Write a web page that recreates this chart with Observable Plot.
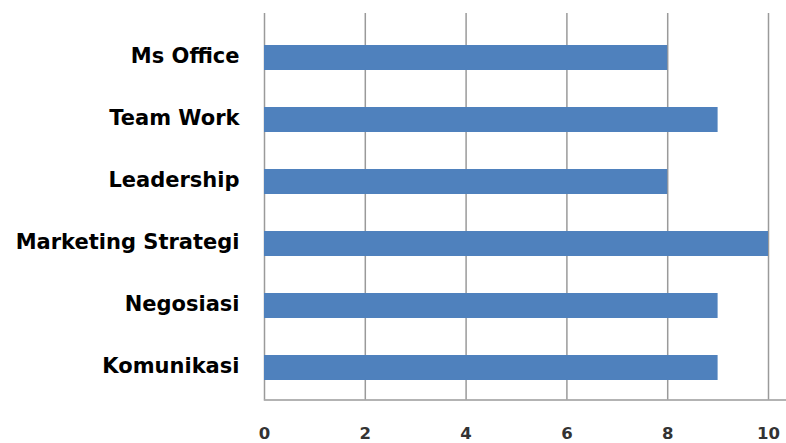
<!DOCTYPE html>
<html>
<head>
<meta charset="utf-8">
<script src="https://cdn.jsdelivr.net/npm/d3@7"></script>
<script src="https://cdn.jsdelivr.net/npm/@observablehq/plot@0.6"></script>
<style>
  html, body { margin: 0; padding: 0; background: #fff; }
</style>
</head>
<body>
<div id="chart"></div>
<script>
const categories = ["Ms Office", "Team Work", "Leadership", "Marketing Strategi", "Negosiasi", "Komunikasi"];
const values = [8, 9, 8, 10, 9, 9];
const xTicks = [0, 2, 4, 6, 8, 10];

const data = categories.map((c, i) => ({skill: c, value: values[i]}));

const chart = Plot.plot({
  width: 786,
  height: 443,
  marginLeft: 264,
  marginRight: 18,
  marginTop: 13,
  marginBottom: 43.5,
  style: {fontFamily: "DejaVu Sans", background: "#fff", color: "#111"},
  x: {domain: [0, 10], ticks: xTicks},
  y: {domain: categories, range: [25.3, 399.7], paddingInner: 0.6, paddingOuter: 0.3},
  marks: [
    Plot.ruleX(xTicks, {stroke: "#9a9a9a", strokeWidth: 1.5}),
    Plot.barX(data, {x: "value", y: "skill", fill: "#4f81bd"}),
    Plot.frame({anchor: "bottom", stroke: "#9a9a9a", strokeWidth: 1.5, insetRight: -18}),
    Plot.axisX({ticks: xTicks, tickSize: 0, tickPadding: 27, fontSize: 16.5, fontWeight: "bold", label: null, fill: "#333"}),
    Plot.axisY({tickSize: 0, tickPadding: 25, fontSize: 21, fontWeight: "bold", label: null, fill: "#000", dy: -2})
  ]
});
document.getElementById("chart").appendChild(chart);
</script>
</body>
</html>
